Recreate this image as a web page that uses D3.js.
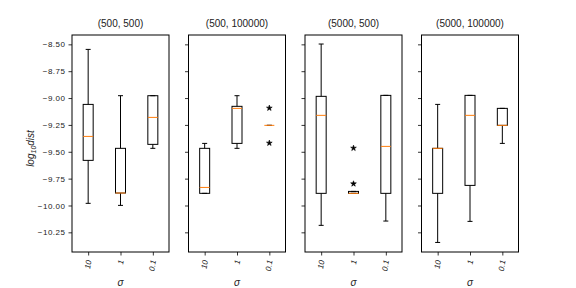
<!DOCTYPE html>
<html><head><meta charset="utf-8">
<script src="https://cdn.jsdelivr.net/npm/d3@7"></script>
<style>
body{margin:0;background:#fff;}
text{font-family:"Liberation Sans",Arial,sans-serif;}
</style></head>
<body><svg id="chart" width="576" height="288"></svg>
<script>
const panelTitles = ["(500, 500)", "(500, 100000)", "(5000, 500)", "(5000, 100000)"];
const sigmas = ["10", "1", "0.1"];
const yTicks = [-8.5, -8.75, -9.0, -9.25, -9.5, -9.75, -10.0, -10.25];
// per panel, per sigma
const whiskerHigh = [[-8.547, -8.978, -8.978], [-9.422, -8.978, -9.254], [-8.497, -9.869, -8.975], [-9.059, -8.975, -9.096]];
const q3 =          [[-9.059, -9.468, -8.978], [-9.468, -9.077, -9.254], [-8.984, -9.869, -8.975], [-9.468, -8.975, -9.096]];
const median =      [[-9.357, -9.884, -9.180], [-9.832, -9.096, -9.254], [-9.161, -9.887, -9.450], [-9.468, -9.161, -9.254]];
const q1 =          [[-9.580, -9.884, -9.431], [-9.887, -9.422, -9.254], [-9.887, -9.887, -9.887], [-9.887, -9.813, -9.254]];
const whiskerLow =  [[-9.980, -9.999, -9.468], [-9.887, -9.468, -9.254], [-10.185, -9.887, -10.145], [-10.344, -10.148, -9.422]];
const fliers =      [[[], [], []], [[], [], [-9.093, -9.419]], [[], [-9.466, -9.798], []], [[], [], []]];

const svg = d3.select("#chart");
const panelX = [72, 188.5, 305, 421.5];
const pw = 97, plotTop = 35, plotBottom = 252;
const y = d3.scaleLinear().domain([-10.433, -8.413]).range([plotBottom, plotTop]);

panelTitles.forEach((title, p) => {
  const g = svg.append("g").attr("transform", `translate(${panelX[p]},0)`);
  const x = d3.scalePoint().domain(sigmas).range([0, pw]).padding(0.5);
  const bw = 10;

  // y axis
  const ya = g.append("g").call(d3.axisLeft(y).tickValues(yTicks).tickSize(3.5).tickPadding(3)
      .tickFormat(d => p === 0 ? d3.format(".2f")(d).replace("-", "\u2212") : ""));
  ya.select(".domain").remove();
  ya.selectAll("line").attr("stroke", "#000").attr("stroke-width", 0.8);
  ya.selectAll("text").attr("font-size", "8px").attr("fill", "#222").attr("letter-spacing", "0.5px");

  // x axis
  const xa = g.append("g").attr("transform", `translate(0,${plotBottom})`)
      .call(d3.axisBottom(x).tickSize(3.5).tickPadding(3));
  xa.select(".domain").remove();
  xa.selectAll("line").attr("stroke", "#000").attr("stroke-width", 0.8);
  xa.selectAll("text").attr("font-size", "8px").attr("font-style", "italic").attr("fill", "#222")
    .attr("text-anchor", "end").attr("dy", "0.35em")
    .attr("transform", "translate(0,8) rotate(-80)").attr("x", 0).attr("y", 0);

  // boxes
  sigmas.forEach((s, i) => {
    const cx = x(s);
    const bg = g.append("g");
    bg.append("line").attr("x1", cx).attr("x2", cx).attr("y1", y(q3[p][i])).attr("y2", y(whiskerHigh[p][i])).attr("stroke", "#000");
    bg.append("line").attr("x1", cx).attr("x2", cx).attr("y1", y(q1[p][i])).attr("y2", y(whiskerLow[p][i])).attr("stroke", "#000");
    bg.append("line").attr("x1", cx - bw / 4).attr("x2", cx + bw / 4).attr("y1", y(whiskerHigh[p][i])).attr("y2", y(whiskerHigh[p][i])).attr("stroke", "#000");
    bg.append("line").attr("x1", cx - bw / 4).attr("x2", cx + bw / 4).attr("y1", y(whiskerLow[p][i])).attr("y2", y(whiskerLow[p][i])).attr("stroke", "#000");
    bg.append("rect").attr("x", cx - bw / 2).attr("width", bw).attr("y", y(q3[p][i]))
      .attr("height", Math.max(0, y(q1[p][i]) - y(q3[p][i]))).attr("fill", "none").attr("stroke", "#000");
    bg.append("line").attr("x1", cx - bw / 2).attr("x2", cx + bw / 2).attr("y1", y(median[p][i])).attr("y2", y(median[p][i])).attr("stroke", "#ff7f0e");
    fliers[p][i].forEach(v => {
      bg.append("path").attr("d", d3.symbol().type(d3.symbolStar).size(10)())
        .attr("transform", `translate(${cx},${y(v)})`).attr("fill", "#000").attr("stroke", "#000").attr("stroke-width", 0.6);
    });
  });

  // frame
  g.append("rect").attr("x", 0).attr("y", plotTop).attr("width", pw).attr("height", plotBottom - plotTop)
    .attr("fill", "none").attr("stroke", "#000").attr("stroke-width", 1);

  // title
  g.append("text").attr("x", pw / 2).attr("y", 27).attr("text-anchor", "middle")
    .attr("font-size", "10px").attr("fill", "#222").text(title);
  // x label
  g.append("text").attr("x", pw / 2).attr("y", 286).attr("text-anchor", "middle")
    .attr("font-size", "10px").attr("font-style", "italic").attr("fill", "#222").text("σ");
});

// y label
const yl = svg.append("text").attr("transform", `translate(34,${(plotTop + plotBottom) / 2 + 5}) rotate(-90)`)
  .attr("text-anchor", "middle").attr("font-size", "10px").attr("font-style", "italic").attr("fill", "#222");
yl.append("tspan").text("log");
yl.append("tspan").attr("font-size", "7px").attr("dy", "2").text("10");
yl.append("tspan").attr("dy", "-2").text("dist");
</script></body></html>
